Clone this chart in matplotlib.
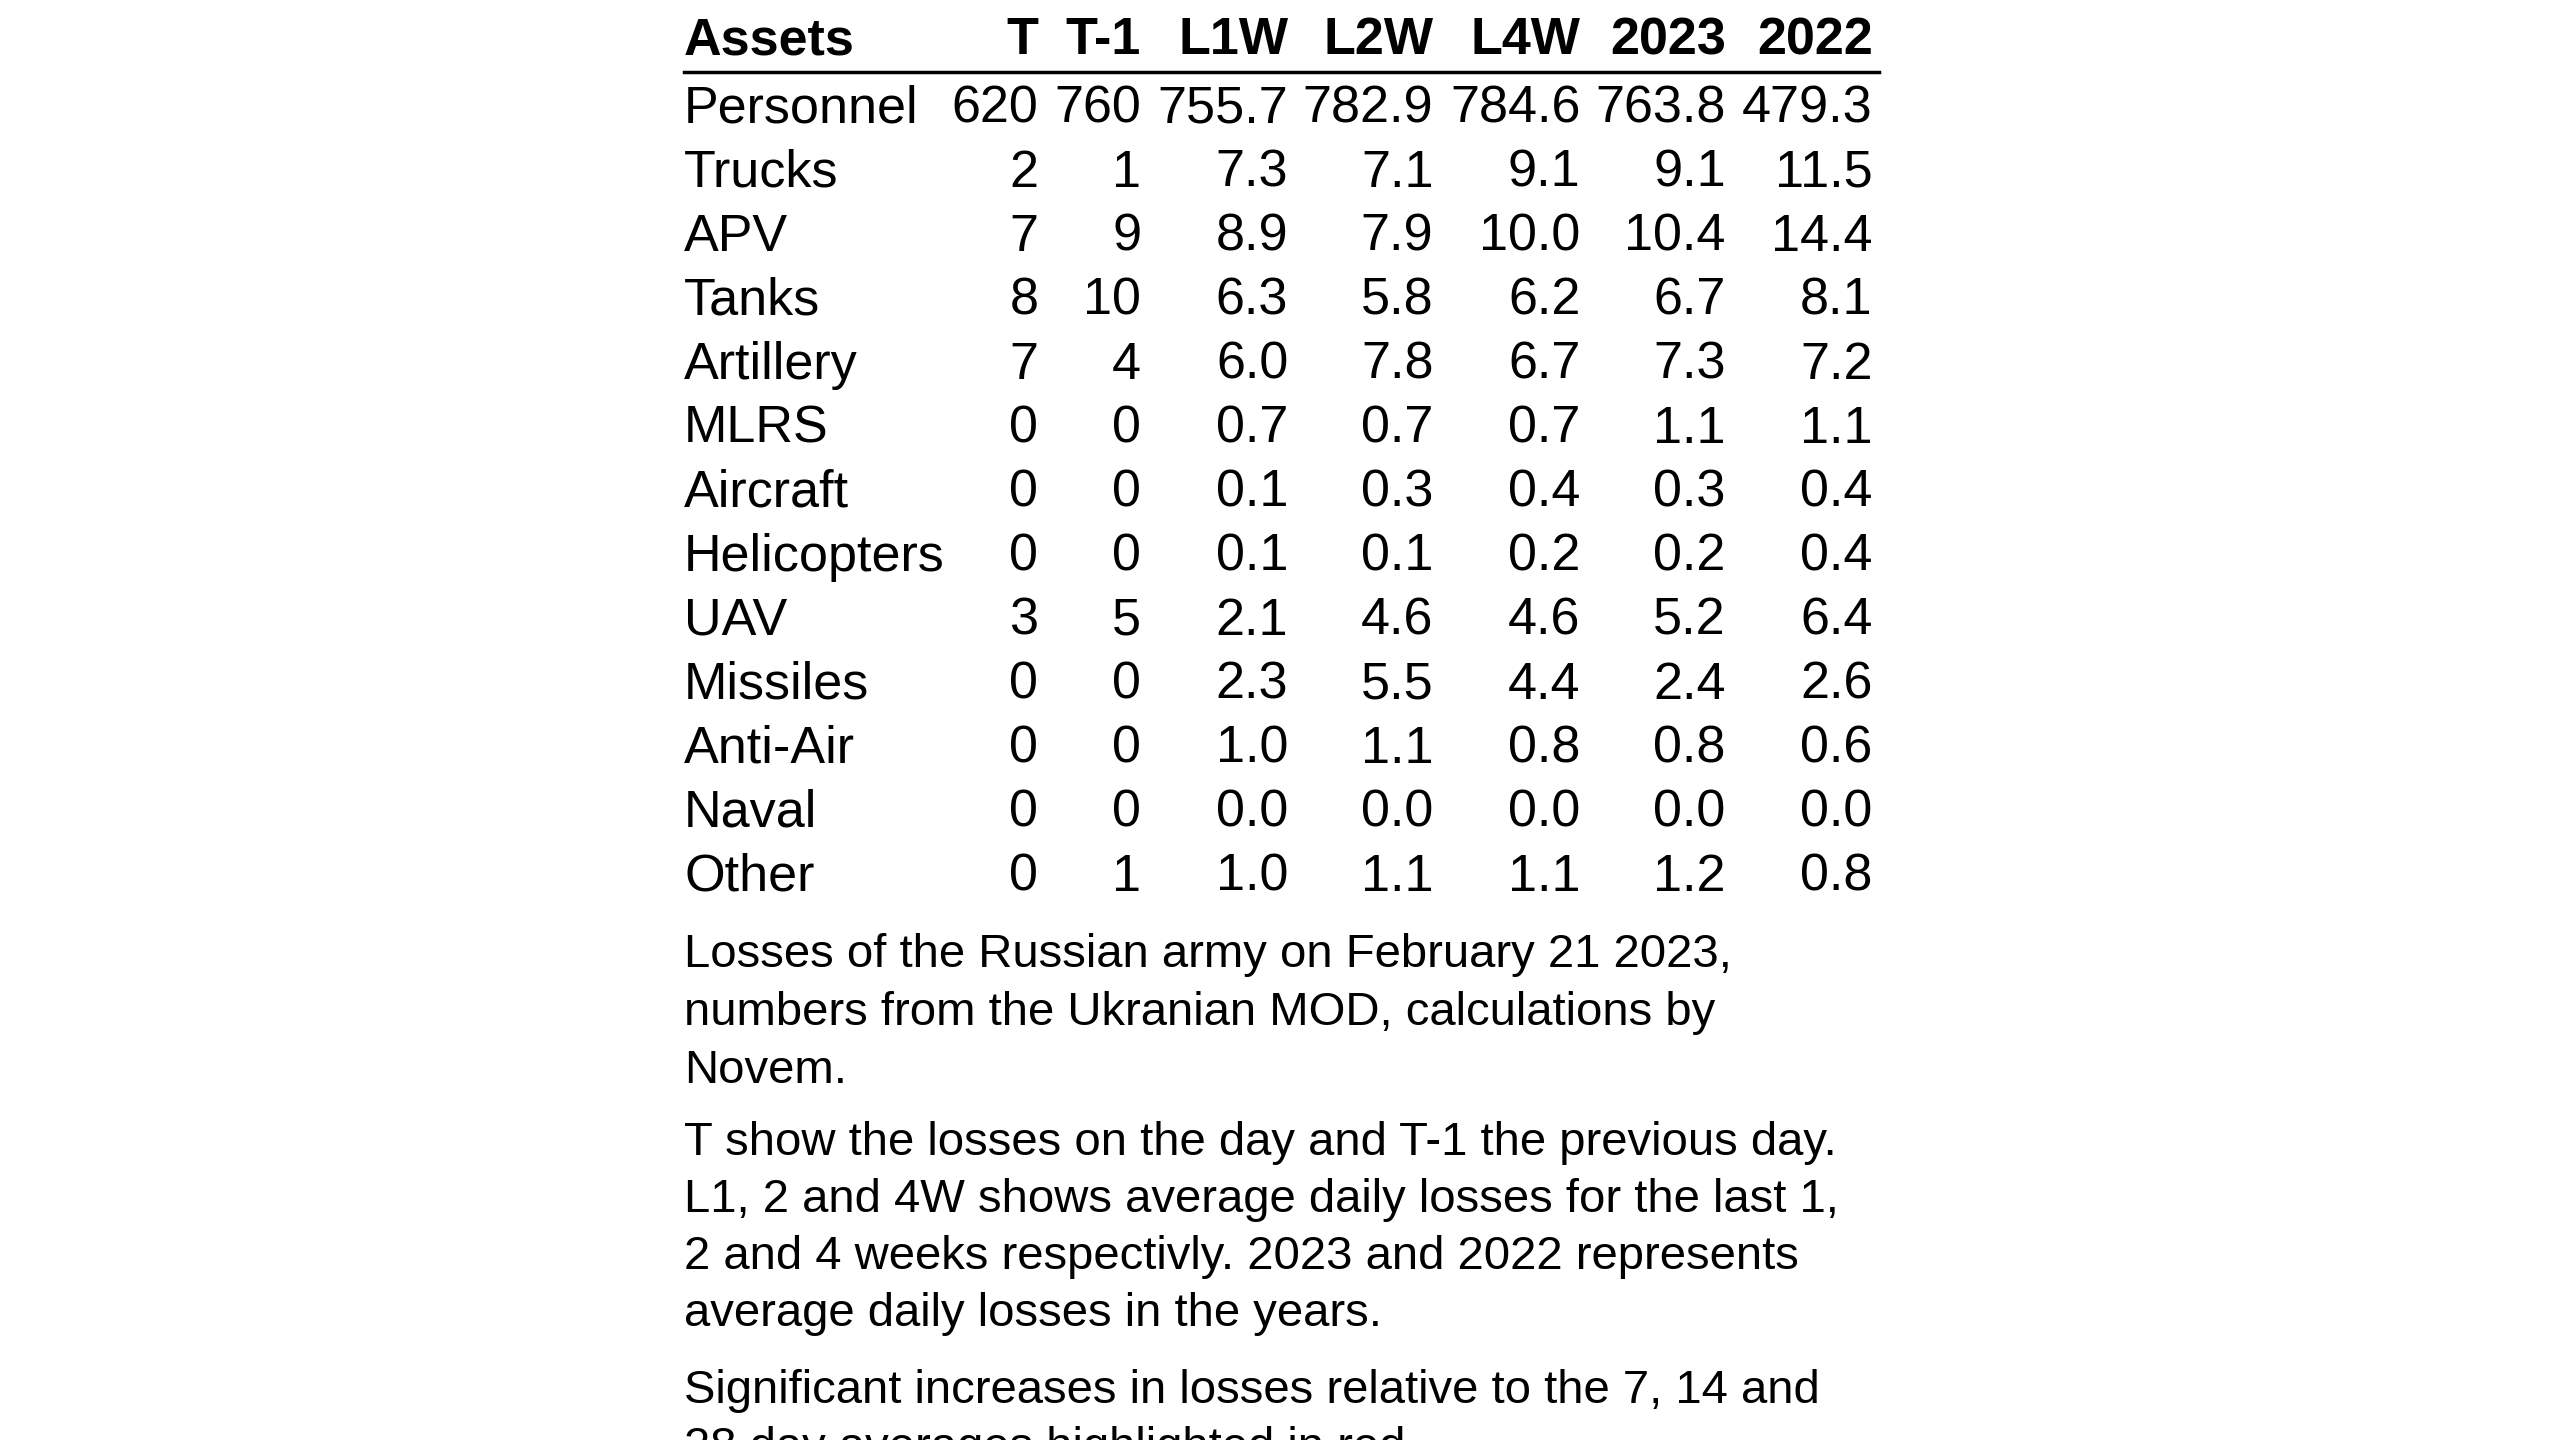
import matplotlib.pyplot as plt

assets = ['Personnel', 'Trucks', 'APV', 'Tanks', 'Artillery', 'MLRS', 'Aircraft',
          'Helicopters', 'UAV', 'Missiles', 'Anti-Air', 'Naval', 'Other']
columns = ['T', 'T-1', 'L1W', 'L2W', 'L4W', '2023', '2022']
t_vals = ['620', '2', '7', '8', '7', '0', '0', '0', '3', '0', '0', '0', '0']
t1_vals = ['760', '1', '9', '10', '4', '0', '0', '0', '5', '0', '0', '0', '1']
l1w = ['755.7', '7.3', '8.9', '6.3', '6.0', '0.7', '0.1', '0.1', '2.1', '2.3', '1.0', '0.0', '1.0']
l2w = ['782.9', '7.1', '7.9', '5.8', '7.8', '0.7', '0.3', '0.1', '4.6', '5.5', '1.1', '0.0', '1.1']
l4w = ['784.6', '9.1', '10.0', '6.2', '6.7', '0.7', '0.4', '0.2', '4.6', '4.4', '0.8', '0.0', '1.1']
y2023 = ['763.8', '9.1', '10.4', '6.7', '7.3', '1.1', '0.3', '0.2', '5.2', '2.4', '0.8', '0.0', '1.2']
y2022 = ['479.3', '11.5', '14.4', '8.1', '7.2', '1.1', '0.4', '0.4', '6.4', '2.6', '0.6', '0.0', '0.8']

notes = [
    ["Losses of the Russian army on February 21 2023,",
     "numbers from the Ukranian MOD, calculations by",
     "Novem."],
    ["T show the losses on the day and T-1 the previous day.",
     "L1, 2 and 4W shows average daily losses for the last 1,",
     "2 and 4 weeks respectivly. 2023 and 2022 represents",
     "average daily losses in the years."],
    ["Significant increases in losses relative to the 7, 14 and",
     "28 day averages highlighted in red."],
]

W, H = 1568, 882
plt.rcParams['font.family'] = ['Liberation Sans', 'DejaVu Sans']
fig = plt.figure(figsize=(25.6, 14.4), dpi=100)
FS = 37.5

def fx(x): return x / W
def fy(y): return 1 - y / H

left = 419
col_right = [636, 699, 789, 878, 968, 1057, 1147]
data = [t_vals, t1_vals, l1w, l2w, l4w, y2023, y2022]

fig.text(fx(left), fy(25), 'Assets', fontsize=FS, fontweight='bold', va='center', ha='left')
for c, xr in zip(columns, col_right):
    fig.text(fx(xr), fy(25), c, fontsize=FS, fontweight='bold', va='center', ha='right')
fig.add_artist(plt.Line2D([fx(left), fx(1151)], [fy(44), fy(44)], color='black', lw=2.5))

for i, a in enumerate(assets):
    y = 67 + i * 39.2
    fig.text(fx(left), fy(y), a, fontsize=FS, va='center', ha='left')
    for col, xr in zip(data, col_right):
        fig.text(fx(xr), fy(y), col[i], fontsize=FS, va='center', ha='right')

starts = [585, 700, 852]
spacing = [35.5, 35, 35]
for para, y0, sp in zip(notes, starts, spacing):
    for j, line in enumerate(para):
        fig.text(fx(left), fy(y0 + j * sp), line, fontsize=34, va='center', ha='left')

fig.savefig('out.png', dpi=100, facecolor='white')
